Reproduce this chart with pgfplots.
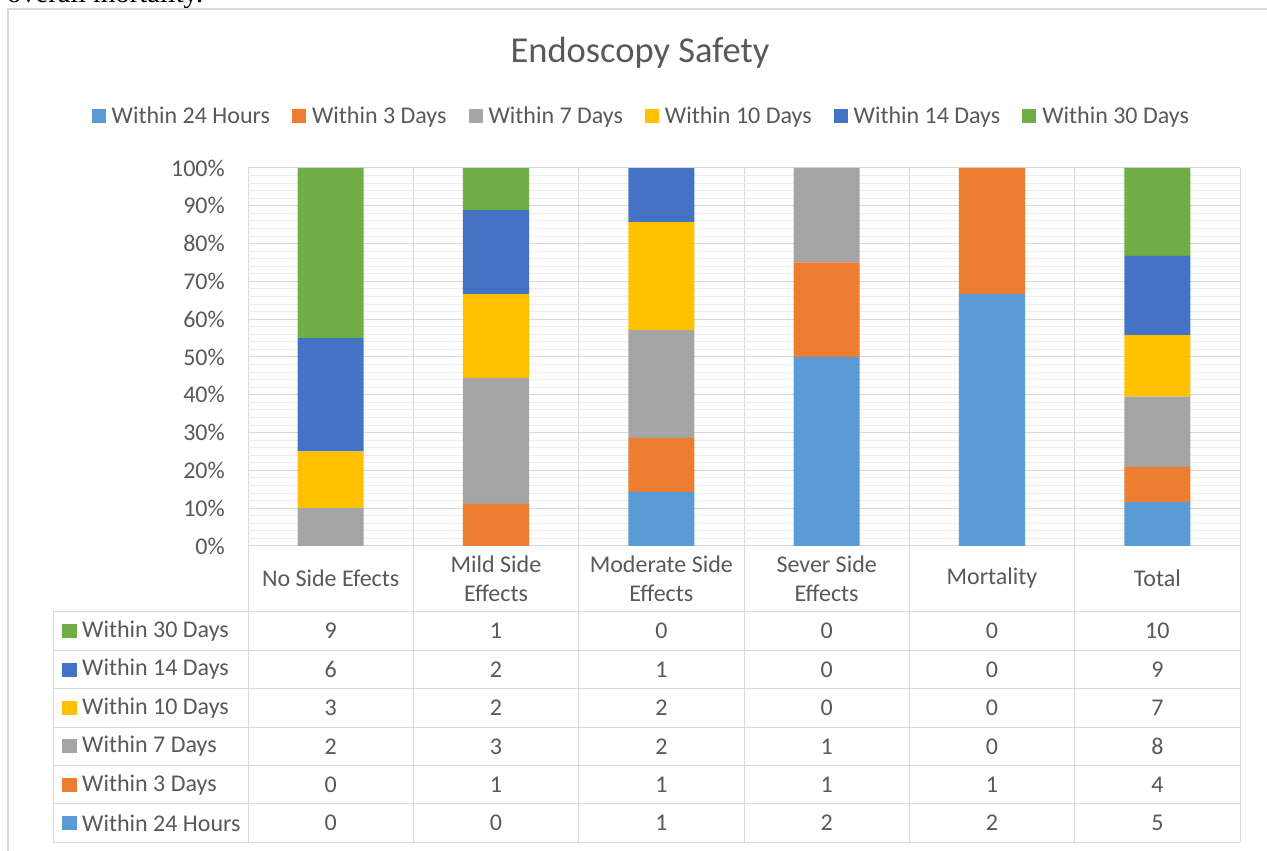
\documentclass[border=0pt]{standalone}
\usepackage{pgfplots}
\pgfplotsset{compat=1.18}
\usepackage{pgfplotstable}
\usepackage{fontspec}
\setmainfont{Carlito}
\newfontfamily\seriffont{Liberation Serif}
\definecolor{c24}{HTML}{5B9BD5}
\definecolor{c3}{HTML}{ED7D31}
\definecolor{c7}{HTML}{A5A5A5}
\definecolor{c10}{HTML}{FFC000}
\definecolor{c14}{HTML}{4472C4}
\definecolor{c30}{HTML}{70AD47}
\definecolor{txt}{HTML}{595959}
\definecolor{gridc}{HTML}{D9D9D9}
\definecolor{mgridc}{HTML}{EDEDED}
\newcommand\fs{\fontsize{24}{29}\selectfont}

\pgfplotstableread{
x h24 d3 d7 d10 d14 d30 total
0 0 0 2 3 6 9 20
1 0 1 3 2 2 1 9
2 1 1 2 2 1 0 7
3 2 1 1 0 0 0 4
4 2 1 0 0 0 0 3
5 5 4 8 7 9 10 43
}\data

\begin{document}
\begin{tikzpicture}
\useasboundingbox (0,0) rectangle (1267pt,851pt);
\clip (0,0) rectangle (1267pt,851pt);
\begin{scope}[x=1pt,y=1pt,yshift=851pt,yscale=-1]
  \fill[white] (0,0) rectangle (1267,851);
  \node[anchor=base west, inner sep=0pt, font=\seriffont\fontsize{28.5}{30}\selectfont] at (7,3) {overall mortality.};
  \draw[gridc, line width=1.5pt] (8,9) rectangle (1300,900);
  \node[font=\fontsize{36.5}{40}\selectfont, text=txt] at (640,53) {Endoscopy Safety};
\end{scope}

\begin{axis}[
  at={(248pt,305pt)}, anchor=south west,
  width=992pt, height=378pt, scale only axis,
  xmin=-0.5, xmax=5.5, ymin=0, ymax=100,
  ybar stacked, bar width=0.4,
  axis line style={draw=none},
  tick style={draw=none},
  xtick={-0.5,0.5,1.5,2.5,3.5,4.5,5.5}, xticklabels={},
  xmajorgrids,
  ytick={0,10,...,100},
  yticklabels={0\%,10\%,20\%,30\%,40\%,50\%,60\%,70\%,80\%,90\%,100\%},
  minor y tick num=4, ymajorgrids, yminorgrids,
  major grid style={gridc, line width=1pt},
  minor grid style={mgridc, line width=1pt},
  yticklabel style={font=\fs, text=txt, anchor=east, inner sep=0pt, xshift=-23pt},
  legend style={at={(0.3985,1.1376)}, anchor=center, draw=none, fill=none,
    legend columns=6, font=\fs, text=txt,
    /tikz/every even column/.append style={column sep=16pt},
    nodes={inner xsep=6pt, inner ysep=0pt}},
  legend image code/.code={\fill (0pt,-7pt) rectangle (14pt,7pt);},
]
\addplot[fill=c24, draw=none] table[x=x, y expr=\thisrow{h24}/\thisrow{total}*100] {\data};
\addplot[fill=c3, draw=none] table[x=x, y expr=\thisrow{d3}/\thisrow{total}*100] {\data};
\addplot[fill=c7, draw=none] table[x=x, y expr=\thisrow{d7}/\thisrow{total}*100] {\data};
\addplot[fill=c10, draw=none] table[x=x, y expr=\thisrow{d10}/\thisrow{total}*100] {\data};
\addplot[fill=c14, draw=none] table[x=x, y expr=\thisrow{d14}/\thisrow{total}*100] {\data};
\addplot[fill=c30, draw=none] table[x=x, y expr=\thisrow{d30}/\thisrow{total}*100] {\data};
\legend{Within 24 Hours, Within 3 Days, Within 7 Days, Within 10 Days, Within 14 Days, Within 30 Days}
\end{axis}

\begin{scope}[x=1pt,y=1pt,yshift=851pt,yscale=-1]
  \foreach \y in {612,650.4,688.8,727.2,765.6,804,842.4}
    \draw[gridc, line width=1pt] (53.3,\y) -- (1240,\y);
  \draw[gridc, line width=1pt] (53.3,612) -- (53.3,842.4);
  \foreach \i in {0,...,6}
    \draw[gridc, line width=1pt] (248+165.333*\i,546) -- (248+165.333*\i,842.4);
  \foreach \lab [count=\c] in {No Side Efects, Mild Side\\Effects, Moderate Side\\Effects, Sever Side\\Effects, Mortality, Total}
    \node[font=\fs, text=txt, align=center, inner sep=0pt] at (248+165.333*\c-82.667,578.5) {\lab};
  \foreach \name/\col [count=\r] in {Within 30 Days/c30, Within 14 Days/c14, Within 10 Days/c10, Within 7 Days/c7, Within 3 Days/c3, Within 24 Hours/c24} {
    \fill[\col] (62,612+38.4*\r-19.2-7) rectangle (76.5,612+38.4*\r-19.2+7);
    \node[font=\fs, text=txt, anchor=west, inner sep=0pt] at (82,612+38.4*\r-19.2) {\name};
  }
  \foreach \vals [count=\r] in {{9,1,0,0,0,10},{6,2,1,0,0,9},{3,2,2,0,0,7},{2,3,2,1,0,8},{0,1,1,1,1,4},{0,0,1,2,2,5}} {
    \foreach \v [count=\c] in \vals
      \node[font=\fs, text=txt, inner sep=0pt] at (248+165.333*\c-82.667,612+38.4*\r-19.2) {\v};
  }
\end{scope}
\end{tikzpicture}
\end{document}
